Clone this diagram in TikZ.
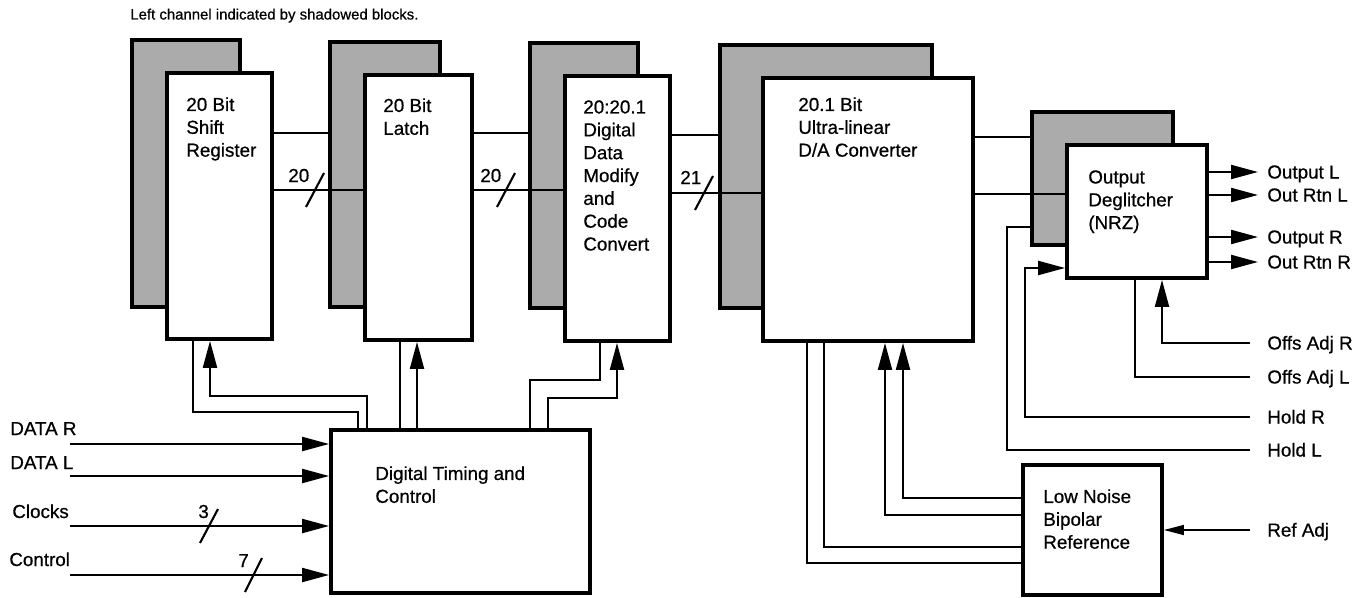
\documentclass[tikz,border=0pt]{standalone}
\usepackage{fontspec}
\setmainfont{Liberation Sans}[FakeBold=0.6]
\usetikzlibrary{arrows.meta,fit}

\begin{document}
\begin{tikzpicture}[x=0.02cm, y=-0.02cm, line join=miter,
    box/.style={draw, line width=2.2pt, fill=white, inner sep=0pt},
    shadowbox/.style={draw, line width=2.2pt, fill=black!33, inner sep=0pt},
    wire/.style={line width=1.2pt},
    >={Triangle[length=0.54cm, width=0.28cm]},
    txt/.style={font=\fontsize{10.7}{13}\selectfont, align=left, inner sep=0pt, anchor=north west},
    lbl/.style={font=\fontsize{10.7}{13}\selectfont, inner sep=0pt, anchor=base west}]
    \useasboundingbox (0,0) rectangle (1369,598);
    \node[font=\fontsize{8.5}{10}\selectfont, inner sep=0pt, anchor=base west] (cap) at (130,19.5) {Left channel indicated by shadowed blocks.};

    \node[shadowbox, fit={(132,40) (240,307)}] (srL) {};
    \node[shadowbox, fit={(330,42) (440,307)}] (ltL) {};
    \node[shadowbox, fit={(530,43) (638,308)}] (ddmL) {};
    \node[shadowbox, fit={(720,45) (932,308)}] (dacL) {};
    \node[shadowbox, fit={(1032,112) (1173,245)}] (dgL) {};

    \draw[wire] (srL.east |- 0,133) -- (ltL.west |- 0,133);
    \draw[wire] (ltL.east |- 0,133) -- (ddmL.west |- 0,133);
    \draw[wire] (ddmL.east |- 0,135) -- (dacL.west |- 0,135);
    \draw[wire] (dacL.east |- 0,137) -- (dgL.west |- 0,137);
    \draw[wire] (srL.east |- 0,190) -- (ltL.east |- 0,190);
    \draw[wire] (ltL.east |- 0,190) -- (ddmL.east |- 0,190);
    \draw[wire] (ddmL.east |- 0,193) -- (dacL.east |- 0,193);
    \draw[wire] (dacL.east |- 0,194) -- (dgL.east |- 0,194);

    \node[box, fit={(167,73) (272,339)}] (sr) {};
    \node[box, fit={(365,75) (472,340)}] (lt) {};
    \node[box, fit={(565,76) (670,341)}] (ddm) {};
    \node[box, fit={(763,78) (973,341)}] (dac) {};
    \node[box, fit={(1067,145) (1207,278)}] (dg) {};
    \node[box, fit={(331,430) (590,593)}] (tc) {};
    \node[box, fit={(1023,465) (1162,595)}] (ref) {};

    \node[txt] (sr-t) at (186,97) {20 Bit\\Shift\\Register};
    \node[txt] (lt-t) at (383,98) {20 Bit\\Latch};
    \node[txt] (ddm-t) at (583,100) {20:20.1\\Digital\\Data\\Modify\\and\\Code\\Convert};
    \node[txt] (dac-t) at (798,97) {20.1 Bit\\Ultra-linear\\D/A Converter};
    \node[txt] (dg-t) at (1088,170) {Output\\Deglitcher\\(NRZ)};
    \node[txt] (tc-t) at (375,466) {Digital Timing and\\Control};
    \node[txt] (ref-t) at (1043,489) {Low Noise\\Bipolar\\Reference};

    \draw[wire] (sr.east |- 0,190) -- (lt.west |- 0,190);
    \draw[wire] (lt.east |- 0,190) -- (ddm.west |- 0,190);
    \draw[wire] (ddm.east |- 0,193) -- (dac.west |- 0,193);
    \draw[wire] (dac.east |- 0,194) -- (dg.west |- 0,194);
    \draw[wire] (306,207) -- (324,173);
    \draw[wire] (497,207) -- (515,173);
    \draw[wire] (695,210) -- (713,176);
    \node[lbl] (n20a) at (288,182) {20};
    \node[lbl] (n20b) at (480,182) {20};
    \node[lbl] (n21) at (680,184) {21};

    \draw[wire] (tc.north -| 358,0) |- (193,412) -- (sr.south -| 193,0);
    \draw[wire,->] (tc.north -| 367,0) |- (210,396) -- (sr.south -| 210,0);
    \draw[wire] (tc.north -| 400,0) -- (lt.south -| 400,0);
    \draw[wire,->] (tc.north -| 417,0) -- (lt.south -| 417,0);
    \draw[wire] (tc.north -| 530,0) |- (600,380) -- (ddm.south -| 600,0);
    \draw[wire,->] (tc.north -| 548,0) |- (617,398) -- (ddm.south -| 617,0);

    \node[lbl] (dr) at (10,435) {DATA R};
    \node[lbl] (dl) at (10,469) {DATA L};
    \node[lbl] (clk) at (12,518) {Clocks};
    \node[lbl] (ctl) at (9,566) {Control};
    \draw[wire,->] (70,444) -- (tc.west |- 0,444);
    \draw[wire,->] (70,476) -- (tc.west |- 0,476);
    \draw[wire,->] (70,526) -- (tc.west |- 0,526);
    \draw[wire,->] (70,575) -- (tc.west |- 0,575);
    \draw[wire] (200,543) -- (218,509);
    \draw[wire] (245,592) -- (262,558);
    \node[lbl] (n3) at (198,518) {3};
    \node[lbl] (n7) at (238,567) {7};

    \node[lbl] (ol) at (1267,178.5) {Output L};
    \node[lbl] (orl) at (1267,201.5) {Out Rtn L};
    \node[lbl] (or) at (1267,243.5) {Output R};
    \node[lbl] (orr) at (1267,268.5) {Out Rtn R};
    \draw[wire,->] (dg.east |- 0,172) -- (1258,172);
    \draw[wire,->] (dg.east |- 0,195) -- (1258,195);
    \draw[wire,->] (dg.east |- 0,237) -- (1258,237);
    \draw[wire,->] (dg.east |- 0,262) -- (1258,262);

    \node[lbl] (oar) at (1267,349.5) {Offs Adj R};
    \node[lbl] (oal) at (1267,383.5) {Offs Adj L};
    \node[lbl] (hr) at (1267,423.5) {Hold R};
    \node[lbl] (hl) at (1267,456.5) {Hold L};
    \node[lbl] (ra) at (1267,536.5) {Ref Adj};
    \draw[wire,->] (1250,343) -| (dg.south -| 1162,0);
    \draw[wire] (1250,377) -| (dg.south -| 1135,0);
    \draw[wire,->] (1250,417) -| (1025,268) -- (dg.west |- 0,268);
    \draw[wire] (1250,450) -| (1007,227) -- (dgL.west |- 0,227);
    \draw[line width=0.8pt, -{Triangle[length=0.4cm, width=0.2cm]}] (1250,530) -- (ref.east |- 0,530);

    \draw[wire] (ref.west |- 0,563) -| (dac.south -| 807,0);
    \draw[wire] (ref.west |- 0,547) -| (dac.south -| 824,0);
    \draw[wire,->] (ref.west |- 0,515) -| (dac.south -| 885,0);
    \draw[wire,->] (ref.west |- 0,498) -| (dac.south -| 903,0);
\end{tikzpicture}
\end{document}
